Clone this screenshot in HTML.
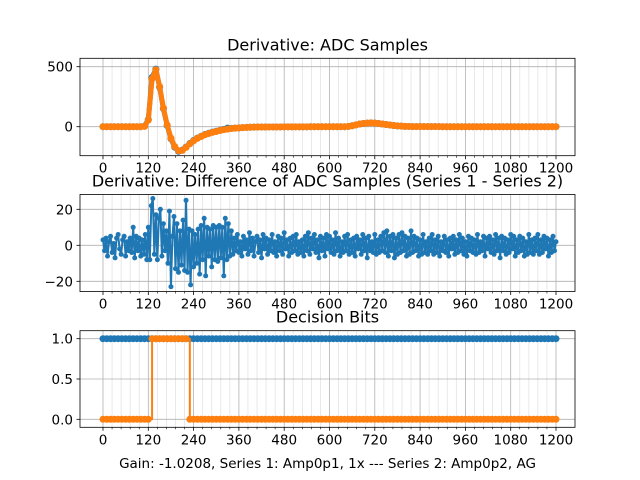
<!DOCTYPE html>
<html><head><meta charset="utf-8"><style>
body{margin:0;background:#fff}
svg{font-family:"DejaVu Sans","Liberation Sans",sans-serif;display:block}
</style></head><body>
<svg id="fig" width="640" height="480" xmlns="http://www.w3.org/2000/svg">
<rect width="640" height="480" fill="#fff"/>
</svg>
<script>
// ---- data ----
const xTicks = [0,120,240,360,480,600,720,840,960,1080,1200];
const adcIdx10 = []; for (let i = 0; i <= 1200; i += 10) adcIdx10.push(i);
const series1 = [0,0,0,0,0,0,0,0,0,0,0,5,60,410,480,330,150,10,-100,-170,-205,-195,-170,-140,-115,-95,-80,-65,-55,-45,-38,-30,-22,-12,-14,-12,-10,-8,-6,-5,-4,-3,-3,-3,-2,-2,-2,-2,-1,-1,-1,-1,-1,-1,-1,0,0,0,0,0,0,0,0,0,0,2,8,15,22,27,30,32,30,27,22,18,14,10,7,5,3,2,1,1,1,1,1,1,1,1,0,0,0,0,0,0,0,0,0,0,0,0,0,0,0,0,0,0,0,0,0,0,0,0,0,0,0,0,0,0,0];
const series2 = [0,0,0,0,0,0,0,0,0,0,0,3,55,400,475,335,155,15,-95,-165,-200,-198,-172,-143,-118,-97,-82,-67,-57,-47,-40,-32,-25,-20,-15,-12,-10,-8,-6,-5,-4,-3,-3,-3,-2,-2,-2,-2,-1,-1,-1,-1,-1,-1,-1,0,0,0,0,0,0,0,0,0,0,2,8,15,22,27,30,32,30,27,22,18,14,10,7,5,3,2,1,1,1,1,1,1,1,1,0,0,0,0,0,0,0,0,0,0,0,0,0,0,0,0,0,0,0,0,0,0,0,0,0,0,0,0,0,0,0];
const diffIdx = []; for (let i = 0; i <= 1200; i += 4) diffIdx.push(i);
const diffVals = [
3,-3,4,-6,2,5,-4,1,-7,4, 6,-2,-5,3,5,-6,2,-3,4,-4, 10,-7,5,-3,4,-6,3,-5,6,-8,
10,-8,22,26,-5,17,-8,15,20,-6, 12,-3,8,-10,19,-23,5,16,-13,12, -15,8,-11,14,-14,25,-15,9,-22,8,
-12,6,-10,9,-16,11,-8,15,-17,10, -6,9,-12,11,-8,10,-9,11,-7,10, -17,15,-8,12,-6,8,
-5,4,-3,6,-4,2,-6,5,-2,3, -5,7,-3,4,-6,2,5,-4,3,-7, 6,-2,4,-5,3,-3,6,-4,2,-6,
5,-3,4,-5,7,-2,3,-6,4,-4, 5,-3,6,-5,2,-4,3,-6,5,-3, 7,-5,4,-2,6,-4,3,-7,5,-3,
4,-6,6,-2,5,-4,3,-5,7,-3, 4,-6,2,-4,5,-3,6,-5,3,-4, 4,-6,5,-2,3,-5,6,-3,4,-7,
5,-3,2,-4,6,-5,3,-4,5,-3, 7,-4,8,-6,5,-3,6,-7,4,-5, 6,-4,7,-3,5,-6,4,-5,8,-4,
5,-3,4,-6,3,-5,6,-4,2,-5, 4,-3,6,-5,3,-4,5,-6,2,-3, 5,-4,3,-6,4,-2,5,-5,3,-4,
6,-3,4,-5,2,-6,5,-3,4,-4, 3,-5,6,-4,2,-3,5,-6,4,-2, 5,-4,3,-5,6,-3,4,-7,5,-3,
4,-5,3,-4,6,-2,5,-6,3,-4, 5,-3,4,-6,2,-5,6,-4,3,-5, 4,-3,6,-5,3,-4,5,-2,4,-6,
3,-4,5,-3,2];
const bitIdx = adcIdx10;
const bits1 = adcIdx10.map(() => 1);
const bits2 = [0,0,0,0,0,0,0,0,0,0,0,0,0,1,1,1,1,1,1,1,1,1,1,0,0,0,0,0,0,0,0,0,0,0,0,0,0,0,0,0,0,0,0,0,0,0,0,0,0,0,0,0,0,0,0,0,0,0,0,0,0,0,0,0,0,0,0,0,0,0,0,0,0,0,0,0,0,0,0,0,0,0,0,0,0,0,0,0,0,0,0,0,0,0,0,0,0,0,0,0,0,0,0,0,0,0,0,0,0,0,0,0,0,0,0,0,0,0,0,0,0];

// ---- drawing ----
const NS = "http://www.w3.org/2000/svg";
const svg = document.getElementById('fig');
function el(tag, attrs, parent) {
  const e = document.createElementNS(NS, tag);
  for (const k in attrs) e.setAttribute(k, attrs[k]);
  (parent || svg).appendChild(e); return e;
}
const L = 80, R = 575;
const sx = v => 103 + (v / 1200) * 453;

function panel(name, top, bot, yv0, yp0, yv1, yp1, yTicks, yLabels, title) {
  const sy = v => yp0 + (v - yv0) * (yp1 - yp0) / (yv1 - yv0);
  const g = el('g', {});
  
  
  for (let v = 0; v <= 1200; v += 24) {
    if (v % 120 === 0) continue;
    el('line', {x1: sx(v), x2: sx(v), y1: top, y2: bot, stroke: '#e3e3e3', 'stroke-width': 0.8}, g);
  }
  xTicks.forEach(v => el('line', {x1: sx(v), x2: sx(v), y1: top, y2: bot, stroke: '#b0b0b0', 'stroke-width': 0.8}, g));
  yTicks.forEach(v => el('line', {x1: L, x2: R, y1: sy(v), y2: sy(v), stroke: '#b0b0b0', 'stroke-width': 0.8}, g));
  xTicks.forEach(v => {
    el('line', {x1: sx(v), x2: sx(v), y1: bot, y2: bot + 3.5, stroke: '#000', 'stroke-width': 0.8}, g);
    const t = el('text', {x: sx(v), y: bot + 17, 'font-size': 13.5, 'text-anchor': 'middle'}, g);
    t.textContent = v;
  });
  for (let v = 0; v <= 1200; v += 24) if (v % 120) el('line', {x1: sx(v), x2: sx(v), y1: bot, y2: bot + 2, stroke: '#000', 'stroke-width': 0.6}, g);
  yTicks.forEach((v, i) => {
    el('line', {x1: L - 3.5, x2: L, y1: sy(v), y2: sy(v), stroke: '#000', 'stroke-width': 0.8}, g);
    const t = el('text', {x: L - 7, y: sy(v) + 5, 'font-size': 13.5, 'text-anchor': 'end'}, g);
    t.textContent = yLabels[i];
  });
  const tt = el('text', {x: 327.5, y: top - 8, 'font-size': 16, 'text-anchor': 'middle'}, g);
  tt.textContent = title;
  
  
  return {g, sy, top, bot};
}
function series(p, xs, ys, color, name, step, r, lw) {
  const g = el('g', {}, p.g);
  
  
  const n = Math.min(xs.length, ys.length);
  let d = '';
  for (let i = 0; i < n; i++) {
    const X = sx(xs[i]), Y = p.sy(ys[i]);
    if (i === 0) d += `M${X},${Y}`;
    else if (step) d += `L${X},${p.sy(ys[i-1])}L${X},${Y}`;
    else d += `L${X},${Y}`;
  }
  el('path', {d, fill: 'none', stroke: color, 'stroke-width': lw, 'stroke-linejoin': 'round'}, g);
  for (let i = 0; i < n; i++) el('circle', {cx: sx(xs[i]), cy: p.sy(ys[i]), r, fill: color}, g);
}
function frame(p) {
  const f = el('rect', {x: L, y: p.top, width: R - L, height: p.bot - p.top, fill: 'none', stroke: '#000', 'stroke-width': 0.8}, p.g);
  
  
}

const p1 = panel('adc-samples-panel', 58.3, 155.7, 0, 126.7, 500, 66.7, [0, 500], ['0', '500'], 'Derivative: ADC Samples');
series(p1, adcIdx10, series1, '#1f77b4', 'series-1-line', false, 3.5, 5);
series(p1, adcIdx10, series2, '#ff7f0e', 'series-2-line', false, 3.5, 5);
frame(p1);

const p2 = panel('difference-panel', 194.5, 291.5, 0, 245.3, 20, 209.3, [-20, 0, 20], ['\u221220', '0', '20'], 'Derivative: Difference of ADC Samples (Series 1 - Series 2)');
series(p2, diffIdx, diffVals, '#1f77b4', 'difference-line', false, 2.5, 2);
frame(p2);

const p3 = panel('decision-bits-panel', 330.7, 427.3, 0, 419.3, 1, 338.7, [0, 0.5, 1], ['0.0', '0.5', '1.0'], 'Decision Bits');
series(p3, bitIdx, bits1, '#1f77b4', 'bits-series-1', true, 3.5, 2);
series(p3, bitIdx, bits2, '#ff7f0e', 'bits-series-2', true, 3.5, 2);
frame(p3);

const xl = el('text', {x: 327.5, y: 468, 'font-size': 13.5, 'text-anchor': 'middle'});
xl.textContent = 'Gain: -1.0208, Series 1: Amp0p1, 1x --- Series 2: Amp0p2, AG';


</script>
</body></html>
